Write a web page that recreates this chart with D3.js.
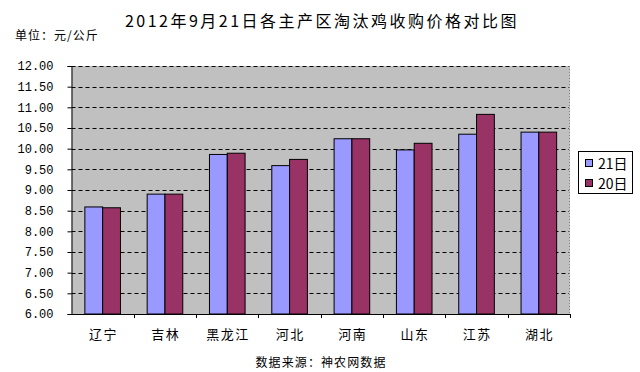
<!DOCTYPE html>
<html><head><meta charset="utf-8">
<script src="https://cdn.jsdelivr.net/npm/d3@7"></script>
<style>body{margin:0;background:#fff}svg{display:block}</style>
</head><body>
<svg id="c" width="640" height="372"></svg>
<script>
const categories = ["辽宁","吉林","黑龙江","河北","河南","山东","江苏","湖北"];
const series21 = [8.59, 8.90, 9.86, 9.59, 10.24, 9.97, 10.35, 10.40];
const series20 = [8.57, 8.90, 9.89, 9.74, 10.24, 10.13, 10.83, 10.40];
const seriesNames = ["21日","20日"];
const yTicks = [6,6.5,7,7.5,8,8.5,9,9.5,10,10.5,11,11.5,12];
const title = "2012年9月21日各主产区淘汰鸡收购价格对比图";
const unitText = "单位：元/公斤";
const sourceText = "数据来源：神农网数据";

const colors = ["#9999FF","#993366"];
const cjk = "'Noto Sans CJK SC', sans-serif";
const svg = d3.select("#c");
const L = 71.5, R = 570, T = 66, B = 314;
const x = d3.scaleBand().domain(categories).range([L,R]).paddingInner(0).paddingOuter(0);
const y = d3.scaleLinear().domain([6,12]).range([B,T]);
const cw = x.bandwidth(), bw = cw/3.5;

svg.append("rect").attr("x",L).attr("y",T).attr("width",R-L).attr("height",B-T).attr("fill","#C0C0C0");
// grid
svg.append("g").selectAll("line").data(yTicks.filter(d=>d>6)).join("line")
  .attr("x1",L).attr("x2",R-1).attr("y1",d=>Math.round(y(d))+0.5).attr("y2",d=>Math.round(y(d))+0.5)
  .attr("stroke","#000").attr("stroke-dasharray","4,3").attr("stroke-width",1);
// right border dotted
svg.append("line").attr("x1",R-0.5).attr("x2",R-0.5).attr("y1",T).attr("y2",B).attr("stroke","#808080").attr("stroke-dasharray","1,2");

const data = [series21, series20];
data.forEach((s,si)=>{
  svg.append("g").selectAll("rect").data(s).join("rect")
    .attr("x",(d,i)=>x(categories[i]) + 0.75*bw + si*bw)
    .attr("y",d=>y(d)).attr("width",bw).attr("height",d=>B-y(d))
    .attr("fill",colors[si]).attr("stroke","#000").attr("stroke-width",1);
});

// y axis
const ya = svg.append("g").attr("transform",`translate(${L},0)`)
  .call(d3.axisLeft(y).tickValues(yTicks).tickFormat(d3.format(".2f")).tickSize(4).tickPadding(14));
ya.select(".domain").attr("stroke","#000");
ya.selectAll("text").attr("font-family","'Liberation Mono', monospace").attr("font-size",12).attr("fill","#000");
// x axis
const xa = svg.append("g").attr("transform",`translate(0,${B})`)
  .call(d3.axisBottom(x).tickSize(0).tickPadding(16));
xa.select(".domain").attr("stroke","#000");
xa.selectAll("text").attr("font-family",cjk).attr("font-size",13).attr("letter-spacing",1.5)
  .attr("dx",0.75).attr("fill","#000");
svg.append("g").selectAll("line").data(categories).join("line")
  .attr("x1",(d,i)=>Math.round(L+cw*(i+1))+0.5).attr("x2",(d,i)=>Math.round(L+cw*(i+1))+0.5)
  .attr("y1",B).attr("y2",B+4).attr("stroke","#000");

svg.append("text").attr("x",322).attr("y",27).attr("text-anchor","middle")
  .attr("font-family",cjk).attr("font-size",16).attr("letter-spacing",2.5).text(title);
svg.append("text").attr("x",15).attr("y",40).attr("font-family",cjk).attr("font-size",12).attr("letter-spacing",1).text(unitText);
svg.append("text").attr("x",321).attr("y",367).attr("text-anchor","middle").attr("font-family",cjk).attr("font-size",12).attr("letter-spacing",1.1).text(sourceText);

// legend
const lg = svg.append("g");
lg.append("rect").attr("x",578.5).attr("y",151.5).attr("width",54).attr("height",42).attr("fill","#fff").attr("stroke","#000");
seriesNames.forEach((n,i)=>{
  lg.append("rect").attr("x",585.5).attr("y",159.5+i*20).attr("width",7).attr("height",7).attr("fill",colors[i]).attr("stroke","#000");
  lg.append("text").attr("x",598).attr("y",169+i*20).attr("font-family",cjk).attr("font-size",14).text(n);
});
</script>
</body></html>
